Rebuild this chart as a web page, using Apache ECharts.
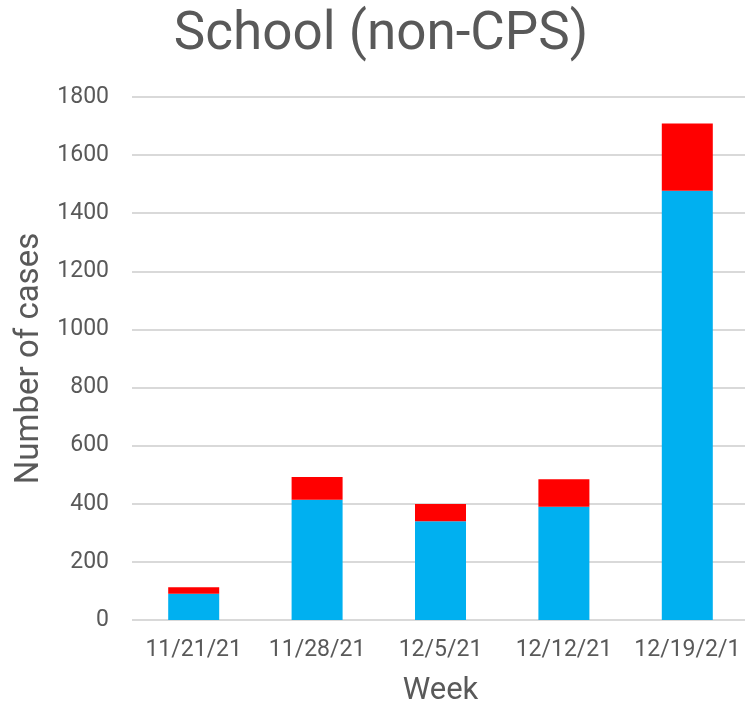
<!DOCTYPE html>
<html lang="en">
<head>
    <meta charset="UTF-8">
    <title>School (non-CPS)</title>
    <script src="https://cdn.jsdelivr.net/npm/echarts@6/dist/echarts.min.js"></script>
    <style>
        html, body { margin: 0; padding: 0; background: #fff; }
        #main { width: 745px; height: 707px; }
    </style>
</head>
<body>
<div id="main"></div>
<script>
    // data
    var weeks = ['11/21/21', '11/28/21', '12/5/21', '12/12/21', '12/19/2/1'];
    var blueCases = [90, 414, 340, 390, 1477];
    var redCases = [23, 78, 59, 94, 232];
    var yTicks = [0, 1800, 200];   // min, max, interval

    var txt = '#595959';
    var myChart = echarts.init(document.getElementById('main'));
    myChart.setOption({
        animation: false,
        textStyle: { fontFamily: 'Roboto' },
        title: {
            text: 'School (non-CPS)',
            left: 376,
            textAlign: 'center',
            top: 4,
            textStyle: { fontSize: 53, fontWeight: 'normal', color: txt, fontFamily: 'Roboto' }
        },
        grid: { left: 132, top: 97, width: 617, height: 523, containLabel: false, outerBoundsMode: 'none' },
        xAxis: {
            type: 'category',
            data: weeks,
            name: 'Week',
            nameLocation: 'middle',
            nameGap: 56,
            nameTextStyle: { fontSize: 31, color: txt },
            axisLine: { show: false },
            axisTick: { show: false },
            axisLabel: { fontSize: 23, color: txt, margin: 19, interval: 0 }
        },
        yAxis: {
            type: 'value',
            min: yTicks[0],
            max: yTicks[1],
            interval: yTicks[2],
            name: 'Number of cases',
            nameLocation: 'middle',
            nameGap: 86,
            nameTextStyle: { fontSize: 33, color: txt },
            axisLine: { show: false },
            axisTick: { show: false },
            axisLabel: { fontSize: 23, color: txt, margin: 23, formatter: function (v) { return String(v); } },
            splitLine: { lineStyle: { color: '#d9d9d9', width: 2 } }
        },
        series: [{
            type: 'bar',
            stack: 'cases',
            data: blueCases,
            barWidth: 51,
            itemStyle: { color: '#00b0f0' }
        }, {
            type: 'bar',
            stack: 'cases',
            data: redCases,
            barWidth: 51,
            itemStyle: { color: '#ff0000' }
        }]
    });
</script>
</body>
</html>
